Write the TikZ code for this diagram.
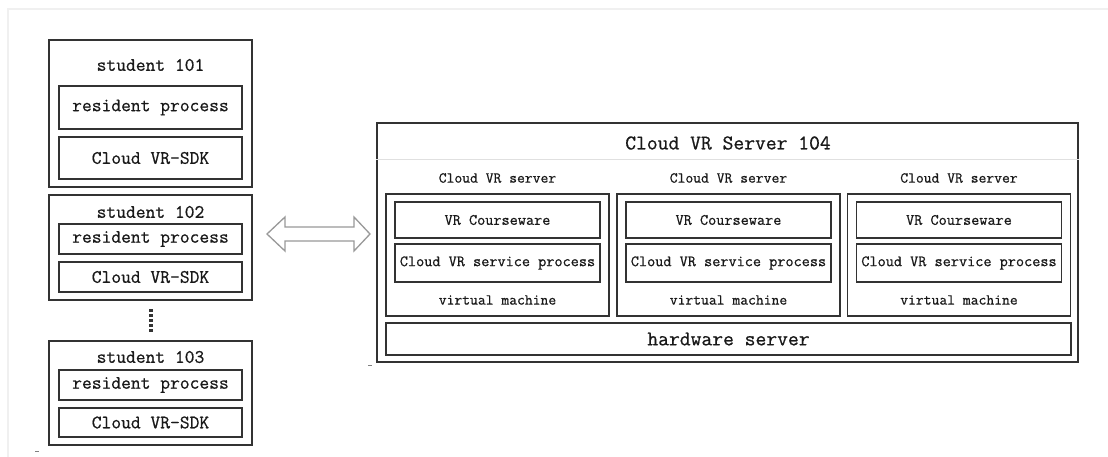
\documentclass[tikz,border=0pt]{standalone}
\usepackage{fontspec}
\setmonofont{Latin Modern Mono}[UprightFeatures={FakeBold=0.7}]
\usetikzlibrary{calc}
\begin{document}
\begin{tikzpicture}[x=1pt,y=-1pt,
  box/.style={draw=black!80, line width=1.8pt, inner sep=0pt, rectangle},
  lbl/.style={inner sep=0pt, font=\ttfamily, text=black!90},
  stxt/.style={lbl, font=\ttfamily\fontsize{19}{21}\selectfont},
  vtxt/.style={lbl, font=\ttfamily\fontsize{15.8}{18}\selectfont},
  ctxt/.style={lbl, font=\ttfamily\fontsize{15.2}{17}\selectfont},
  btxt/.style={lbl, font=\ttfamily\fontsize{21}{23}\selectfont}]
\useasboundingbox (0,0) rectangle (1108,457);
\fill[white] (0,0) rectangle (1108,457);
% faint page frame
\draw[black!6, line width=1.5pt] (8,457) -- (8,9) -- (1108,9);

% ---------- students ----------
\node[box, minimum width=203, minimum height=147] (stu1) at (150.5,113.5) {};
\node[stxt] (stu1t) at (150.5,65) {student 101};
\node[box, minimum width=183, minimum height=43] (res1) at (150.5,107.5) {};
\node[stxt] at (res1) {resident process};
\node[box, minimum width=183, minimum height=42] (sdk1) at (150.5,158) {};
\node[stxt] at (sdk1) {Cloud VR-SDK};

\node[box, minimum width=203, minimum height=105] (stu2) at (150.5,247.5) {};
\node[stxt] (stu2t) at (150.5,212) {student 102};
\node[box, minimum width=183, minimum height=30] (res2) at (150.5,239) {};
\node[stxt] at (res2) {resident process};
\node[box, minimum width=183, minimum height=30] (sdk2) at (150.5,277) {};
\node[stxt] at (sdk2) {Cloud VR-SDK};

% vertical ellipsis between the student groups
\foreach \k in {0,...,4}
  \fill[black!80] (150.5-2,309+\k*5) rectangle ++(4,3.2);

\node[box, minimum width=203, minimum height=104] (stu3) at (150.5,393) {};
\node[stxt] (stu3t) at (150.5,357) {student 103};
\node[box, minimum width=183, minimum height=30] (res3) at (150.5,385) {};
\node[stxt] at (res3) {resident process};
\node[box, minimum width=183, minimum height=29] (sdk3) at (150.5,422.5) {};
\node[stxt] at (sdk3) {Cloud VR-SDK};

% ---------- server ----------
\node[box, minimum width=701, minimum height=239] (srv) at (727.5,242.5) {};
\draw[black!12, line width=1pt] (srv.west |- 0,160) -- (srv.east |- 0,160);
\node[btxt] (srvt) at (728,143) {Cloud VR Server 104};

\foreach \i/\cx in {1/497.5, 2/728.5, 3/959} {
  \node[ctxt] (lab\i) at (\cx,178) {Cloud VR server};
  \node[box, minimum width=223, minimum height=122] (vm\i) at (\cx,255) {};
  \node[box, minimum width=205, minimum height=36] (cw\i) at (\cx,220) {};
  \node[vtxt] at (cw\i) {VR Courseware};
  \node[box, minimum width=205, minimum height=38] (sp\i) at (\cx,263) {};
  \node[vtxt] at (sp\i) {Cloud VR service process};
  \node[ctxt] (vmt\i) at (\cx,300) {virtual machine};
}
\node[box, minimum width=685, minimum height=32] (hw) at (728.5,339) {};
\node[btxt] at (hw) {hardware server};

% ---------- two-way link ----------
\coordinate (al) at (267,234);
\coordinate (ar) at (370,234);
\draw[black!40, line width=1.3pt, fill=white, line join=miter]
  (al) -- ++(18,-17) -- ++(0,10) -- ($(ar)+(-16,-7)$) -- ++(0,-10) -- (ar)
  -- ++(-16,17) -- ++(0,-10) -- ($(al)+(18,7)$) -- ++(0,10) -- cycle;

% small stray marks
\draw[black!50, line width=0.8pt] (368,365) -- (372,365);
\draw[black!50, line width=0.8pt] (35,451) -- (39,451);
\end{tikzpicture}
\end{document}
